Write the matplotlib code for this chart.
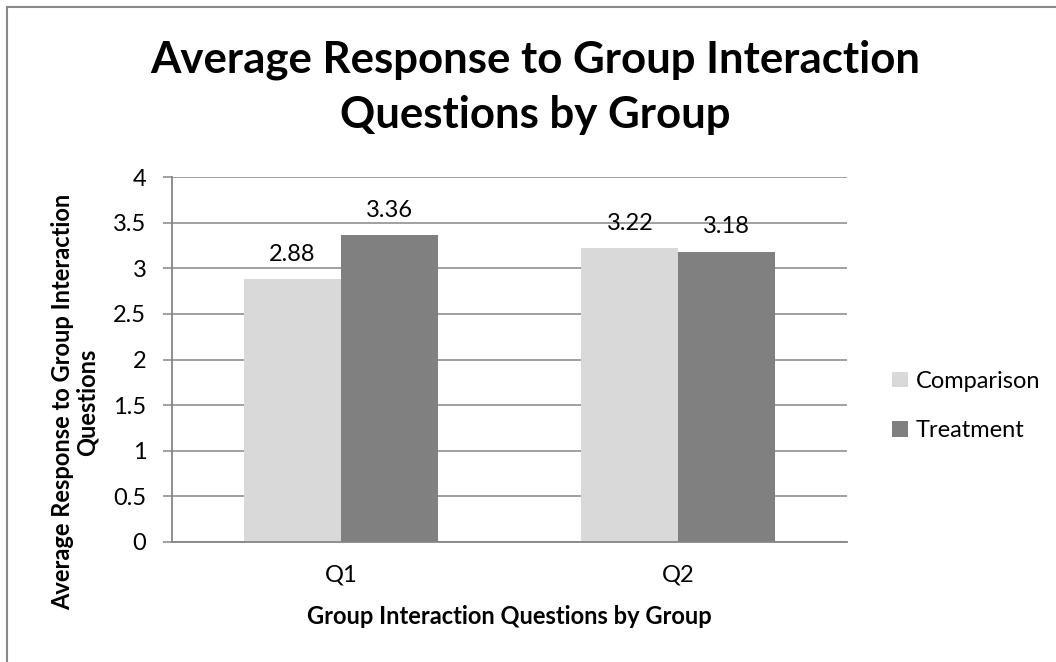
import matplotlib
matplotlib.use("Agg")
import matplotlib.pyplot as plt
import numpy as np
from matplotlib.patches import Rectangle

categories = ["Q1", "Q2"]
comparison = [2.88, 3.22]
treatment = [3.36, 3.18]
series_names = ["Comparison", "Treatment"]
yticks = [0, 0.5, 1, 1.5, 2, 2.5, 3, 3.5, 4]
ytick_labels = ["0", "0.5", "1", "1.5", "2", "2.5", "3", "3.5", "4"]
title_lines = ["Average Response to Group Interaction", "Questions by Group"]
xlabel = "Group Interaction Questions by Group"
ylabel = "Average Response to Group Interaction\nQuestions"

plt.rcParams['font.family'] = ['Lato', 'DejaVu Sans']

W, H = 1056, 662
def fx(px): return px / W
def fy(py): return 1 - py / H

fig = plt.figure(figsize=(W / 100, H / 100), dpi=100)
L, R, T, B = 172, 847, 177, 542
ax = fig.add_axes([fx(L), fy(B), (R - L) / W, (B - T) / H])

GRID = "#868686"
x = np.arange(len(categories))
bw = 0.2867
ax.bar(x - bw / 2, comparison, bw, color="#D9D9D9", label=series_names[0], zorder=3)
ax.bar(x + bw / 2, treatment, bw, color="#808080", label=series_names[1], zorder=3)

FS = 17
for xs, vals in ((x - bw / 2, comparison), (x + bw / 2, treatment)):
    for xi, v in zip(xs, vals):
        ax.annotate(f"{v:.2f}", (xi, v), xytext=(0, 13.3), textcoords="offset points",
                    ha="center", va="baseline", fontsize=FS, color="black", zorder=4)

ax.set_xlim(-0.5, 1.5)
ax.set_ylim(0, 4)
ax.set_yticks(yticks)
ax.set_yticklabels(ytick_labels, fontsize=FS)
ax.set_xticks(x)
ax.set_xticklabels(categories, fontsize=FS)
ax.tick_params(axis="x", length=0, pad=16)
ax.tick_params(axis="y", length=6.5, width=1.1, color=GRID, pad=12)
ax.grid(axis="y", color=GRID, linewidth=1.1, zorder=0)
for s in ["top", "right"]:
    ax.spines[s].set_visible(False)
for s in ["left", "bottom"]:
    ax.spines[s].set_color(GRID)
    ax.spines[s].set_linewidth(1.3)
    ax.spines[s].set_zorder(5)

ax.set_xlabel(xlabel, fontsize=FS, fontweight="bold", labelpad=14)
fig.text(fx(75), fy(402), ylabel, rotation=90, ha="center", va="center", fontsize=FS,
         fontweight="bold", linespacing=1.1, multialignment="center")

tx = fx(535.5)
fig.text(tx, fy(73), title_lines[0], ha="center", va="baseline", fontsize=31.5, fontweight="bold")
fig.text(tx, fy(128), title_lines[1], ha="center", va="baseline", fontsize=31.5, fontweight="bold")

leg = ax.legend(loc="center left", frameon=False, fontsize=FS, handlelength=0.65, handleheight=0.65,
                handletextpad=0.35, labelspacing=1.2, borderaxespad=0)
leg.set_bbox_to_anchor(((883 - L) / (R - L), (B - 406) / (B - T)), transform=ax.transAxes)

fig.patches.append(Rectangle((fx(7), -0.1), 1.2, fy(7) + 0.1, transform=fig.transFigure,
                             fill=False, edgecolor="#898989", linewidth=1.5))

fig.savefig("out.png", dpi=100)
